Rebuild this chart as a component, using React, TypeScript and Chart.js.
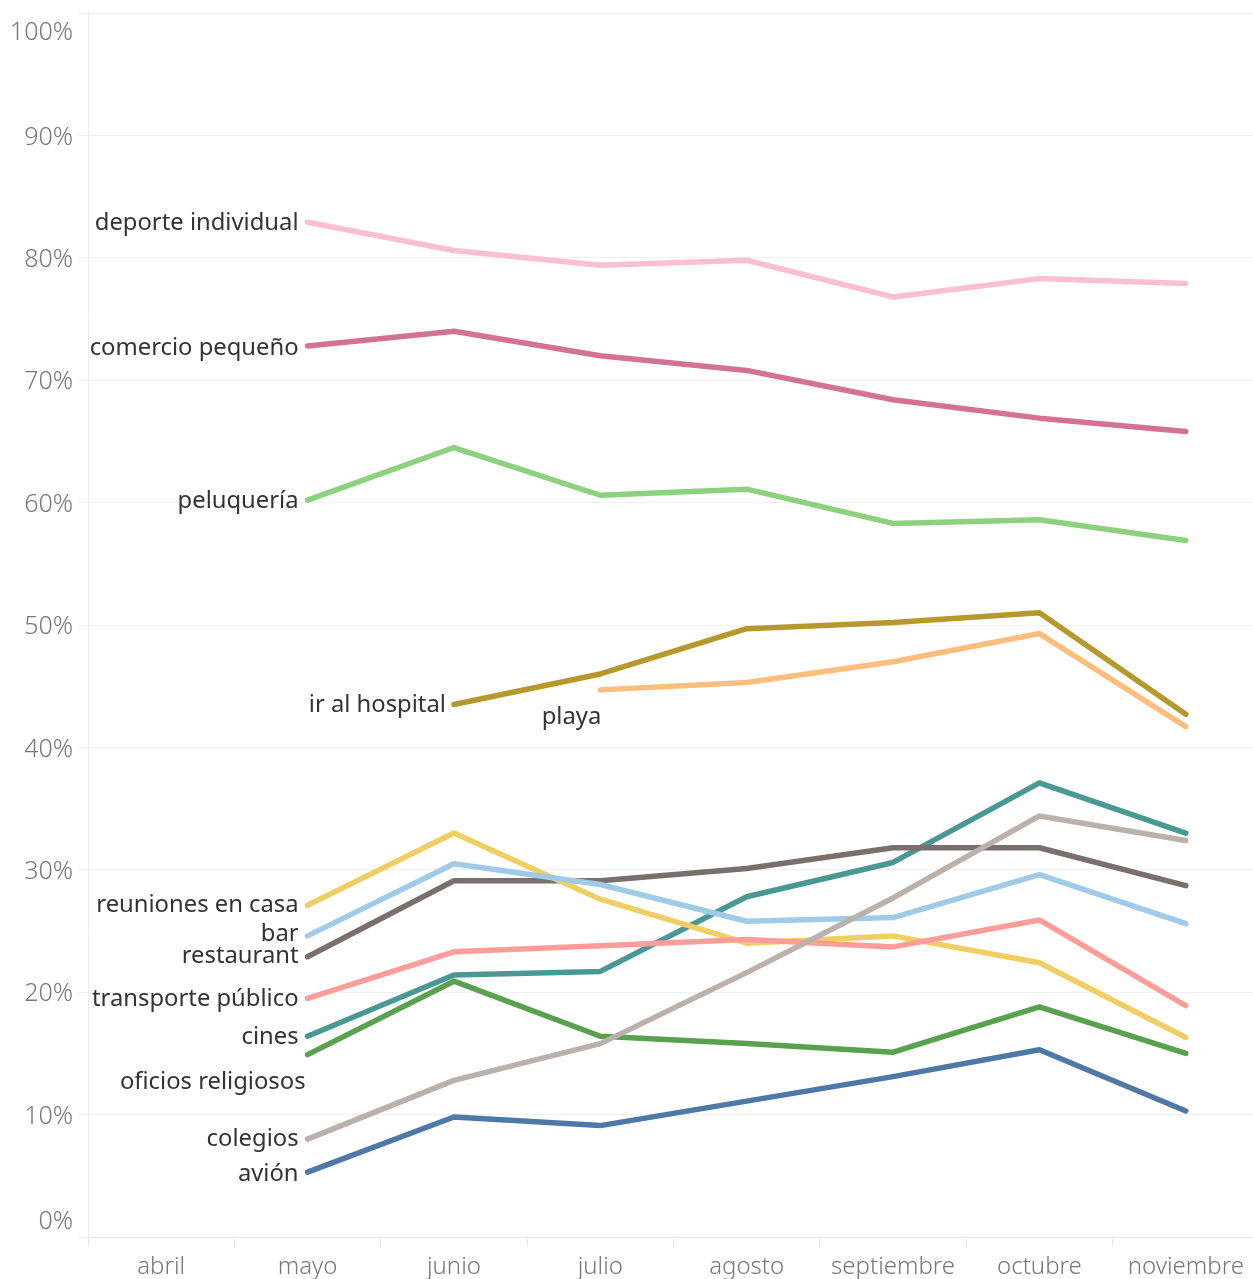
import React, { useEffect, useRef } from "react";
import { Chart, registerables } from "chart.js";

Chart.register(...registerables);

const months = ["abril", "mayo", "junio", "julio", "agosto", "septiembre", "octubre", "noviembre"];
const yTicks = [0, 10, 20, 30, 40, 50, 60, 70, 80, 90, 100];

const deporteIndividual = [null, 82.9, 80.6, 79.4, 79.8, 76.8, 78.3, 77.9];
const comercioPequeno = [null, 72.8, 74.0, 72.0, 70.8, 68.4, 66.9, 65.8];
const peluqueria = [null, 60.2, 64.5, 60.6, 61.1, 58.3, 58.6, 56.9];
const irAlHospital = [null, null, 43.5, 46.0, 49.7, 50.2, 51.0, 42.7];
const playa = [null, null, null, 44.7, 45.3, 47.0, 49.3, 41.7];
const reunionesEnCasa = [null, 27.1, 33.0, 27.6, 24.0, 24.6, 22.4, 16.3];
const bar = [null, 24.6, 30.5, 28.8, 25.8, 26.1, 29.6, 25.6];
const restaurant = [null, 22.9, 29.1, 29.1, 30.1, 31.8, 31.8, 28.7];
const transportePublico = [null, 19.5, 23.3, 23.8, 24.3, 23.7, 25.9, 18.9];
const cines = [null, 16.4, 21.4, 21.7, 27.8, 30.6, 37.1, 33.0];
const oficiosReligiosos = [null, 14.9, 20.9, 16.4, 15.8, 15.1, 18.8, 15.0];
const colegios = [null, 8.0, 12.8, 15.8, 21.6, 27.7, 34.4, 32.4];
const avion = [null, 5.3, 9.8, 9.1, 11.1, 13.1, 15.3, 10.3];

const seriesNames = [
  "deporte individual", "comercio pequeño", "peluquería", "ir al hospital", "playa",
  "colegios", "avión", "oficios religiosos", "transporte público", "bar",
  "reuniones en casa", "restaurant", "cines",
];
const seriesValues = [
  deporteIndividual, comercioPequeno, peluqueria, irAlHospital, playa,
  colegios, avion, oficiosReligiosos, transportePublico, bar,
  reunionesEnCasa, restaurant, cines,
];
const seriesColors = [
  "#FABFD2", "#D37295", "#8CD17D", "#B6992D", "#FFBE7D",
  "#BAB0AC", "#4E79A7", "#59A14F", "#FF9D9A", "#A0CBE8",
  "#F1CE63", "#79706E", "#499894",
];
// label offsets relative to the series' first point [dx, dy]
const labelOffsets: Record<string, [number, number]> = {
  "deporte individual": [0, 1],
  "comercio pequeño": [0, 2],
  "peluquería": [0, 1],
  "ir al hospital": [1, 1],
  "playa": [10, 27],
  "reuniones en casa": [0, 0],
  "bar": [0, -2],
  "restaurant": [0, 0],
  "transporte público": [0, 1],
  "cines": [0, 1],
  "oficios religiosos": [7, 28],
  "colegios": [0, 0],
  "avión": [0, 2],
};

const FONT = '"Noto Sans", "Open Sans", sans-serif';

const labelPlugin = {
  id: "seriesLabels",
  afterDatasetsDraw(chart: any) {
    const ctx = chart.ctx;
    ctx.save();
    ctx.font = `23.8px ${FONT}`;
    ctx.fillStyle = "#333333";
    ctx.textAlign = "right";
    ctx.textBaseline = "middle";
    chart.data.datasets.forEach((ds: any, i: number) => {
      const meta = chart.getDatasetMeta(i);
      const idx = ds.data.findIndex((v: any) => v !== null);
      const pt = meta.data[idx];
      if (!pt) return;
      const off = labelOffsets[ds.label] || [0, 0];
      ctx.fillText(ds.label, pt.x - 9 + off[0], pt.y + off[1]);
    });
    ctx.restore();
  },
};

const yLabelPlugin = {
  id: "yLabels",
  afterDraw(chart: any) {
    const ctx = chart.ctx;
    const y = chart.scales.y;
    ctx.save();
    ctx.font = `300 25px ${FONT}`;
    ctx.fillStyle = "#777777";
    ctx.textAlign = "right";
    ctx.textBaseline = "middle";
    yTicks.forEach((t) => {
      let py = y.getPixelForValue(t) + 2;
      if (t === 100) py += 18;
      if (t === 0) py -= 17;
      ctx.fillText(`${t}%`, chart.chartArea.left - 15, py);
    });
    ctx.restore();
  },
};

export default function App() {
  const ref = useRef<HTMLCanvasElement>(null);
  useEffect(() => {
    document.body.style.margin = "0";
    const chart = new Chart(ref.current!, {
      type: "line",
      data: {
        labels: months,
        datasets: seriesNames.map((name, i) => ({
          label: name,
          data: seriesValues[i],
          borderColor: seriesColors[i],
          backgroundColor: seriesColors[i],
          borderWidth: 5.5,
          pointRadius: 0,
          borderCapStyle: "round",
          borderJoinStyle: "round",
          tension: 0,
        })),
      },
      options: {
        responsive: false,
        animation: false,
        layout: { padding: { left: 78, top: 13, right: 0, bottom: 0 } },
        plugins: { legend: { display: false }, tooltip: { enabled: false } },
        scales: {
          x: {
            offset: true,
            grid: {
              offset: true,
              drawOnChartArea: false,
              drawTicks: true,
              tickLength: 10,
              color: "#e6e6e6",
            },
            border: { display: true, color: "#e6e6e6", dash: [3, 3] },
            ticks: {
              color: "#777777",
              font: { family: FONT, size: 24, weight: "300" },
              padding: 6,
              maxRotation: 0,
            },
            afterFit: (s: any) => { s.height = 42; },
          },
          y: {
            min: 0,
            max: 100,
            ticks: { display: false, stepSize: 10 },
            grid: { color: "#f0f0f0", tickLength: 10, drawTicks: true },
            border: { display: true, color: "#ececec" },
            afterFit: (s: any) => { s.width = 10; },
          },
        },
      },
      plugins: [labelPlugin, yLabelPlugin],
    } as any);
    return () => chart.destroy();
  }, []);
  return (
    <div style={{ position: "fixed", left: 0, top: 0, width: 1253, height: 1279, overflow: "hidden", background: "#fff" }}>
      <canvas ref={ref} width={1259} height={1279} />
    </div>
  );
}
